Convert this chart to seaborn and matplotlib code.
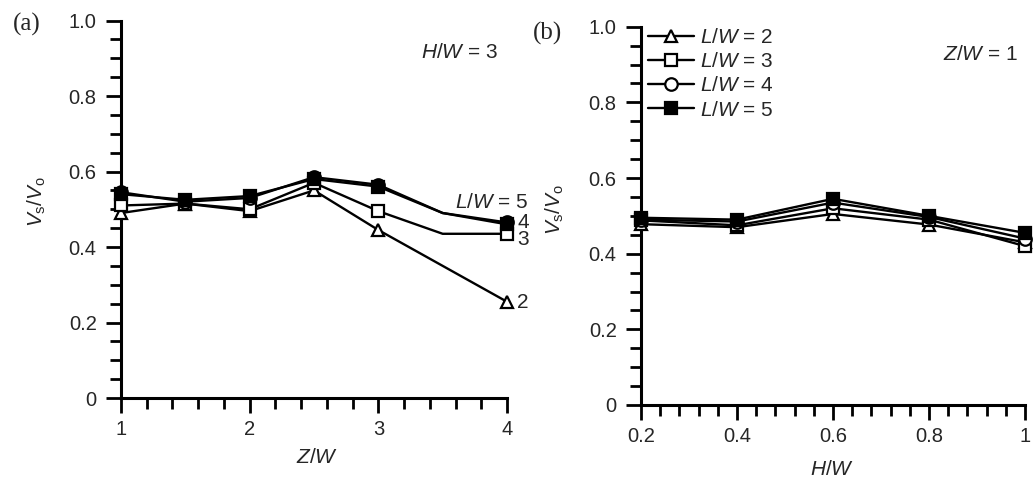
import numpy as np
import pandas as pd
import matplotlib
matplotlib.use("Agg")
import matplotlib.pyplot as plt
from matplotlib.ticker import MultipleLocator, FixedLocator, FixedFormatter
import seaborn as sns

# ---- data -------------------------------------------------------------
zw = [1.0, 1.5, 2.0, 2.5, 3.0, 3.5, 4.0]
a_lw2 = [0.49, 0.515, 0.495, 0.55, 0.445, 0.35, 0.255]
a_lw3 = [0.51, 0.515, 0.50, 0.57, 0.495, 0.435, 0.435]
a_lw4 = [0.545, 0.52, 0.53, 0.585, 0.565, 0.49, 0.465]
a_lw5 = [0.54, 0.525, 0.535, 0.58, 0.56, 0.49, 0.46]
a_marked = [0, 1, 2, 3, 4, 6]  # indices drawn with a symbol

hw = [0.2, 0.4, 0.6, 0.8, 1.0]
b_lw2 = [0.478, 0.47, 0.505, 0.477, 0.43]
b_lw3 = [0.488, 0.475, 0.52, 0.49, 0.42]
b_lw4 = [0.49, 0.485, 0.535, 0.497, 0.44]
b_lw5 = [0.495, 0.49, 0.545, 0.50, 0.455]

series_names = ["L/W = 2", "L/W = 3", "L/W = 4", "L/W = 5"]
legend_labels = [r"$\mathit{L/W}$ = 2", r"$\mathit{L/W}$ = 3",
                 r"$\mathit{L/W}$ = 4", r"$\mathit{L/W}$ = 5"]
end_labels = ["2", "3", "4"]

left_xticks = [1, 2, 3, 4]
left_xlabels = ["1", "2", "3", "4"]
yticks = [0, 0.2, 0.4, 0.6, 0.8, 1.0]
ylabels = ["0", "0.2", "0.4", "0.6", "0.8", "1.0"]
right_xticks = [0.2, 0.4, 0.6, 0.8, 1.0]
right_xlabels = ["0.2", "0.4", "0.6", "0.8", "1"]

# ---- style ------------------------------------------------------------
sns.set_style("ticks")
plt.rcParams["font.family"] = ["Liberation Sans", "DejaVu Sans"]
plt.rcParams["mathtext.fontset"] = "custom"
plt.rcParams["mathtext.rm"] = "Liberation Sans"
plt.rcParams["mathtext.it"] = "Liberation Sans:italic"
plt.rcParams["mathtext.bf"] = "Liberation Sans:bold"

markers = ["^", "s", "o", "s"]
mfcs = ["white", "white", "white", "black"]

W, H = 1034, 480
fig = plt.figure(figsize=(W / 100, H / 100), dpi=100)

def px_axes(x0, x1, ytop, ybot):
    return fig.add_axes([x0 / W, 1 - ybot / H, (x1 - x0) / W, (ybot - ytop) / H])

axA = px_axes(121, 507, 20.5, 398)
axB = px_axes(641, 1025, 26.7, 405)

def style_axes(ax, xlim, xmajor, xlabels_, xminor):
    ax.set_xlim(*xlim)
    ax.set_ylim(0, 1)
    for s in ["top", "right"]:
        ax.spines[s].set_visible(False)
    for s in ["left", "bottom"]:
        ax.spines[s].set_linewidth(2.2)
        ax.spines[s].set_color("black")
    ax.xaxis.set_major_locator(FixedLocator(xmajor))
    ax.xaxis.set_major_formatter(FixedFormatter(xlabels_))
    ax.xaxis.set_minor_locator(MultipleLocator(xminor))
    ax.yaxis.set_major_locator(FixedLocator(yticks))
    ax.yaxis.set_major_formatter(FixedFormatter(ylabels))
    ax.yaxis.set_minor_locator(MultipleLocator(0.05))
    ax.tick_params(which="major", direction="out", length=10.5, width=2,
                   labelsize=14.5, color="black", pad=5)
    ax.tick_params(which="minor", direction="out", length=8, width=2,
                   color="black")
    ax.tick_params(axis="y", which="major", pad=7)
    ax.set_facecolor("white")

# ---- panel (a) --------------------------------------------------------
dfA = pd.DataFrame({"zw": zw, series_names[0]: a_lw2, series_names[1]: a_lw3,
                    series_names[2]: a_lw4, series_names[3]: a_lw5})
for i, name in enumerate(series_names):
    sns.lineplot(data=dfA, x="zw", y=name, ax=axA, color="black", lw=1.7,
                 marker=markers[i], markersize=9, mfc=mfcs[i], mec="black",
                 mew=1.6, markevery=a_marked, clip_on=False, zorder=3 + i)
style_axes(axA, (1, 4), left_xticks, left_xlabels, 0.2)
axA.set_xlabel(r"$\mathit{Z/W}$", fontsize=15)
axA.xaxis.set_label_coords(0.508, -0.133)
axA.set_ylabel(r"$\mathit{V}_\mathrm{s}/\mathit{V}_\mathrm{o}$", fontsize=15)
axA.yaxis.set_label_coords(-0.19, 0.52)

axA.text(4.165, 0.519, r"$\mathit{L/W}$ = 5", fontsize=15, ha="right", va="center")
for lab, yv in zip(end_labels, [0.252, 0.419, 0.464]):
    axA.text(4.08, yv, lab, fontsize=15, ha="left", va="center")

fig.text(498 / W, 1 - 52 / H, r"$\mathit{H/W}$ = 3", fontsize=15, ha="right", va="center")
fig.text(27 / W, 1 - 24 / H, "(a)", fontsize=18, family="Liberation Serif",
         ha="center", va="center")

# ---- panel (b) --------------------------------------------------------
dfB = pd.DataFrame({"hw": hw, series_names[0]: b_lw2, series_names[1]: b_lw3,
                    series_names[2]: b_lw4, series_names[3]: b_lw5})
handles = []
for i, name in enumerate(series_names):
    sns.lineplot(data=dfB, x="hw", y=name, ax=axB, color="black", lw=1.7,
                 marker=markers[i], markersize=9, mfc=mfcs[i], mec="black",
                 mew=1.6, clip_on=False, zorder=3 + i)
    handles.append(axB.get_lines()[-1])
style_axes(axB, (0.2, 1.0), right_xticks, right_xlabels, 0.04)
axB.set_xlabel(r"$\mathit{H/W}$", fontsize=15)
axB.xaxis.set_label_coords(0.497, -0.145)
axB.set_ylabel(r"$\mathit{V}_\mathrm{s}/\mathit{V}_\mathrm{o}$", fontsize=15)
axB.yaxis.set_label_coords(-0.196, 0.516)

axB.legend(handles, legend_labels, loc="upper left",
           bbox_to_anchor=(648 / W, 1 - 28 / H), bbox_transform=fig.transFigure,
           frameon=False, fontsize=15, handlelength=2.2, handletextpad=0.3,
           labelspacing=0.25, borderpad=0, borderaxespad=0)

fig.text(1018 / W, 1 - 55 / H, r"$\mathit{Z/W}$ = 1", fontsize=15, ha="right", va="center")
fig.text(547 / W, 1 - 33 / H, "(b)", fontsize=18, family="Liberation Serif",
         ha="center", va="center")

fig.savefig("out.png", dpi=100, facecolor="white")
